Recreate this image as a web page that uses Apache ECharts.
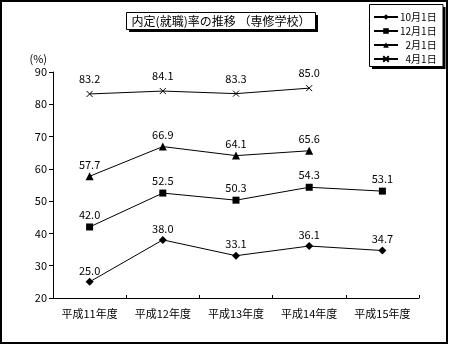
<!DOCTYPE html>
<html>
<head>
<meta charset="utf-8">
<script src="https://cdn.jsdelivr.net/npm/echarts@6/dist/echarts.min.js"></script>
<style>
  html, body { margin: 0; padding: 0; background: #fff; }
  #chart { width: 449px; height: 345px; }
</style>
</head>
<body>
<div id="chart"></div>
<script>
// 内定(就職)率の推移（専修学校）
const categories = ['平成11年度', '平成12年度', '平成13年度', '平成14年度', '平成15年度'];
const seriesNames = ['10月1日', '12月1日', '2月1日', '4月1日'];
const legendLabels = ['10月1日', '12月1日', '\u20072月1日', '\u20074月1日'];
const oct1 = [25.0, 38.0, 33.1, 36.1, 34.7];
const dec1 = [42.0, 52.5, 50.3, 54.3, 53.1];
const feb1 = [57.7, 66.9, 64.1, 65.6, null];
const apr1 = [83.2, 84.1, 83.3, 85.0, null];
const yTicks = { min: 20, max: 90, interval: 10 };

const FONT = '"Noto Sans CJK JP", "Liberation Sans", sans-serif';
const crossPath = 'path://M0,0 L10,10 M10,0 L0,10';

const chart = echarts.init(document.getElementById('chart'), null, { renderer: 'canvas' });

function lineSeries(name, data, symbol, size, labelDistance, extra) {
  return Object.assign({
    name: name,
    type: 'line',
    data: data,
    symbol: symbol,
    symbolSize: size,
    showAllSymbol: true,
    connectNulls: false,
    lineStyle: { color: '#000', width: 1 },
    itemStyle: { color: '#000', borderColor: '#000', borderWidth: 0 },
    label: {
      show: true,
      position: 'top',
      distance: labelDistance,
      color: '#000',
      fontFamily: FONT,
      fontSize: 11,
      formatter: p => p.value == null ? '' : Number(p.value).toFixed(1)
    },
    emphasis: { disabled: true },
    animation: false,
    z: 3
  }, extra || {});
}

const option = {
  backgroundColor: '#fff',
  animation: false,
  textStyle: { fontFamily: FONT, color: '#000' },
  grid: { left: 53, right: 30, top: 72, bottom: 47, containLabel: false },
  xAxis: {
    type: 'category',
    data: categories,
    boundaryGap: true,
    axisLine: { lineStyle: { color: '#000', width: 1 } },
    axisTick: { show: true, inside: true, length: 3, alignWithLabel: false, lineStyle: { color: '#000' } },
    axisLabel: { color: '#000', fontSize: 11, fontFamily: FONT, margin: 10 },
    splitLine: { show: false }
  },
  yAxis: {
    type: 'value',
    min: yTicks.min,
    max: yTicks.max,
    interval: yTicks.interval,
    name: '(%)',
    nameLocation: 'end',
    nameGap: 8,
    nameTextStyle: { color: '#000', fontSize: 11, fontFamily: FONT, align: 'right', padding: [0, 6, 0, 0] },
    axisLine: { show: true, lineStyle: { color: '#000', width: 1 } },
    axisTick: { show: true, inside: false, length: 4, lineStyle: { color: '#000' } },
    axisLabel: { color: '#000', fontSize: 11, fontFamily: FONT, margin: 6 },
    splitLine: { show: false }
  },
  legend: {
    z: 30,
    orient: 'vertical',
    left: 373,
    top: 10,
    itemGap: 0,
    itemWidth: 24,
    itemHeight: 7,
    padding: 0,
    data: seriesNames,
    formatter: name => legendLabels[seriesNames.indexOf(name)],
    textStyle: { color: '#000', fontSize: 10, fontFamily: FONT, padding: [0, 0, 0, -3], lineHeight: 14 },
    selectedMode: false
  },
  graphic: [
    // outer frame
    { type: 'rect', shape: { x: 1, y: 1, width: 446, height: 342 }, style: { fill: null, stroke: '#000', lineWidth: 2 }, z: 100, silent: true },
    // title box with shadow
    { type: 'rect', shape: { x: 129, y: 15, width: 189, height: 17 }, style: { fill: '#000' }, z: 10, silent: true },
    { type: 'rect', shape: { x: 126.5, y: 12.5, width: 189, height: 17 }, style: { fill: '#fff', stroke: '#000', lineWidth: 1 }, z: 11, silent: true },
    { type: 'text', x: 221, y: 21, style: { text: '内定(就職)率の推移 （専修学校）', fill: '#000', font: '12px ' + FONT, align: 'center', verticalAlign: 'middle' }, z: 12, silent: true },
    // legend box with shadow
    { type: 'rect', shape: { x: 372, y: 7, width: 73.5, height: 62 }, style: { fill: '#000' }, z: 10, silent: true },
    { type: 'rect', shape: { x: 369.5, y: 4.5, width: 73.5, height: 62 }, style: { fill: '#fff', stroke: '#000', lineWidth: 1 }, z: 11, silent: true }
  ],
  series: [
    lineSeries(seriesNames[0], oct1, 'diamond', 8, 2),
    lineSeries(seriesNames[1], dec1, 'rect', 7, 3),
    lineSeries(seriesNames[2], feb1, 'triangle', 8, 2),
    lineSeries(seriesNames[3], apr1, crossPath, 6, 4, {
      itemStyle: { color: 'none', borderColor: '#000', borderWidth: 1 }
    })
  ]
};

chart.setOption(option);
</script>
</body>
</html>
